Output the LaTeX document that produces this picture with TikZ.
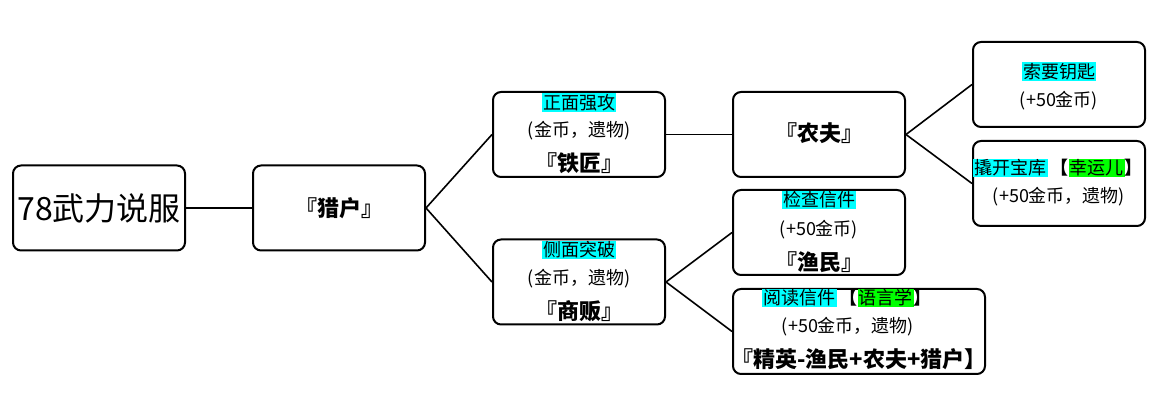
\documentclass[tikz,border=0pt]{standalone}
\usepackage{fontspec}
\setmainfont{Noto Sans CJK SC}
\definecolor{hcyan}{HTML}{00FFFF}
\definecolor{hgreen}{HTML}{00FF00}
\newcommand\hlbox[2]{{\setlength{\fboxsep}{0.8pt}\colorbox{#1}{#2}}}
\begin{document}
\begin{tikzpicture}[x=0.75pt,y=-0.75pt,
  box/.style={draw,line width=1.5pt,rounded corners=6pt,inner sep=0pt,minimum width=129pt,minimum height=63.75pt},
  widebox/.style={box,minimum width=189pt},
  conn/.style={line width=1.2pt},
  txt/.style={inner sep=0pt,font=\fontsize{13.5}{15}\selectfont},
  boldtxt/.style={inner sep=0pt,font=\fontsize{16.5}{18}\selectfont\bfseries},
  bigtxt/.style={inner sep=0pt,font=\fontsize{24}{27}\selectfont}]
\useasboundingbox (0,0) rectangle (1165,409);
% boxes
\node[box] (A) at (99,208) {};
\node[box] (B) at (339,208) {};
\node[box] (C) at (579,134.5) {};
\node[box] (D) at (579,282) {};
\node[box] (E) at (819,134.5) {};
\node[box] (F) at (819,232.5) {};
\node[widebox] (G) at (859,331.5) {};
\node[box] (H) at (1059,84.5) {};
\node[box] (I) at (1059,183.5) {};
% connectors
\draw[conn] (A.east) -- (B.west);
\draw[conn] (B.east) -- (C.west);
\draw[conn] (B.east) -- (D.west);
\draw[conn] (C.east) -- (E.west);
\draw[conn] (E.east) -- (H.west);
\draw[conn] (E.east) -- (I.west);
\draw[conn] (D.east) -- (F.west);
\draw[conn] (D.east) -- (G.west);
% texts
\node[bigtxt] (a1) at (99,208) {78武力说服};
\node[boldtxt] (b1) at (339,208) {『猎户』};
\node[txt] (c1) at (579,102.5) {\hlbox{hcyan}{正面强攻}};
\node[txt] (c2) at (579,131) {(金币，遗物)};
\node[boldtxt] (c3) at (579,163) {『铁匠』};
\node[txt] (d1) at (579,250) {\hlbox{hcyan}{侧面突破}};
\node[txt] (d2) at (579,279) {(金币，遗物)};
\node[boldtxt] (d3) at (579,311) {『商贩』};
\node[boldtxt] (e1) at (819,133) {『农夫』};
\node[txt] (f1) at (819,200) {\hlbox{hcyan}{检查信件}};
\node[txt] (f2) at (819,230) {(+50金币)};
\node[boldtxt] (f3) at (819,262) {『渔民』};
\node[txt] (g1) at (847,298) {\hlbox{hcyan}{阅读信件}\,\textbf{【}\hlbox{hgreen}{语言学}\textbf{】}};
\node[txt] (g2) at (848,327) {(+50金币，遗物)};
\node[boldtxt] (g3) at (859,359) {『精英-渔民+农夫+猎户】};
\node[txt] (h1) at (1059,71.5) {\hlbox{hcyan}{索要钥匙}};
\node[txt] (h2) at (1059,101) {(+50金币)};
\node[txt] (i1) at (1058,168) {\hlbox{hcyan}{撬开宝库}\,\textbf{【}\hlbox{hgreen}{幸运儿}\textbf{】}};
\node[txt] (i2) at (1059,197) {(+50金币，遗物)};
\end{tikzpicture}
\end{document}
